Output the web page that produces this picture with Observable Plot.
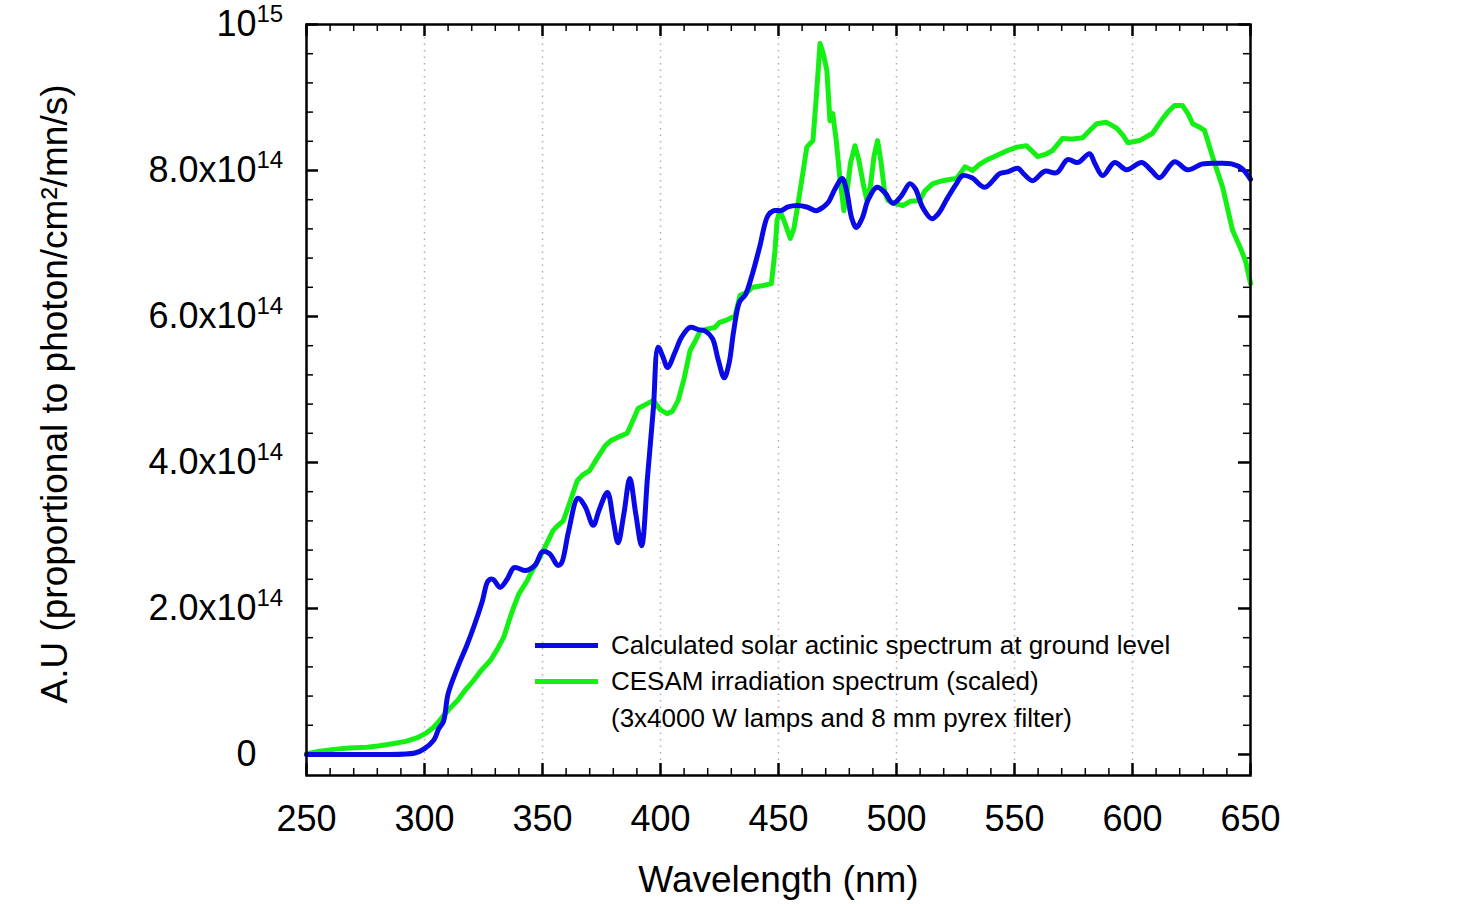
<!DOCTYPE html>
<html>
<head>
<meta charset="utf-8">
<script src="https://cdn.jsdelivr.net/npm/d3@7"></script>
<script src="https://cdn.jsdelivr.net/npm/@observablehq/plot@0.6"></script>
<style>
  html, body { margin: 0; padding: 0; background: #fff; }
  #wrap { position: relative; width: 1469px; height: 904px; font-family: "Liberation Sans", Arial, sans-serif; }
  #legend { position: absolute; left: 535px; top: 627px; font-size: 26px; color: #000; }
  #legend .row { display: flex; align-items: center; height: 36.5px; white-space: nowrap; }
  #legend .sw { width: 63px; height: 5px; margin-right: 13px; }
  #legend .nosw { width: 63px; margin-right: 13px; }
</style>
</head>
<body>
<div id="wrap"><div id="legend"></div></div>
<script>
// ---- data (values in units of 1e14) ----
const solarNm = [250,260,280,296,300,304,306,308,310,314,318,321,324.5,327,329,332,335,338,343,347,350,353,356.5,358,361,365,368,371.5,374,377.5,380,382,384.5,387,389.5,392,394.5,397,399,401,403,406,409,412.5,416,419,422,424.5,427,429,431,433.5,436,439,442,445.5,448,451,454,458,462,466,469,471,474,477,479,481,483,485.5,488,491.7,495,498.5,502,505.7,508,511,515,518,521,525,528,532,537.4,543.8,547,551.4,554,557.7,562.8,567.9,572.5,576.8,581.8,584,587.4,592.4,597.5,603.9,608,611.5,617.8,623.3,629.7,636.9,642,646.2,650];
const solarVal = [0,0,0,0.02,0.08,0.2,0.35,0.45,0.83,1.19,1.5,1.76,2.1,2.38,2.4,2.29,2.4,2.56,2.52,2.6,2.78,2.75,2.59,2.62,3.05,3.51,3.4,3.14,3.35,3.59,3.2,2.9,3.3,3.78,3.3,2.86,3.8,4.75,5.58,5.45,5.3,5.5,5.72,5.85,5.82,5.8,5.7,5.4,5.16,5.35,5.8,6.2,6.3,6.59,6.95,7.38,7.45,7.45,7.5,7.52,7.5,7.45,7.5,7.56,7.75,7.89,7.7,7.35,7.22,7.35,7.6,7.77,7.7,7.55,7.65,7.82,7.75,7.5,7.34,7.42,7.59,7.8,7.93,7.9,7.77,7.96,7.98,8.03,7.95,7.86,7.99,7.97,8.15,8.11,8.23,8.1,7.93,8.11,8.01,8.11,8.0,7.9,8.12,8.01,8.09,8.1,8.09,8.03,7.88];

const cesamNm = [250,255,261.6,268,275.7,281,287,292,297,301,303.8,306,308,311,314,317,320.7,324,328,331,333.5,336,337.7,340,343.5,345,348,350.3,352.4,354.5,356,358.8,361,364.7,367,370,373,376.6,379,381.6,385.9,388,390.5,394,397,400,402.8,405,407.5,410,412.5,414.5,416.8,420,423,425,428,431.6,433.7,436.7,439,443,447,448.5,449.4,450.6,452.5,455,456.5,458,460,462,464.6,466,467.6,469,470.5,471.8,473,474.5,476,477.7,479,480.5,482.4,484,486,487.5,489,490.5,492,493.5,495,496.4,499,502.7,506,509.9,512,515.4,519.6,523,525.5,529,532.3,535,538,542,546.7,551,555,557,559.8,563,566,570.4,574,578.9,582,584.8,589,593.3,596,598,603,608.5,612.8,615,617.8,621.2,623.5,625.5,628,630.5,634,638.2,642.4,646.2,648,650];
const cesamVal = [0.01,0.04,0.07,0.09,0.1,0.12,0.15,0.18,0.23,0.3,0.37,0.45,0.53,0.64,0.74,0.87,1.01,1.15,1.29,1.45,1.6,1.85,2.01,2.2,2.38,2.48,2.65,2.79,2.93,3.07,3.12,3.2,3.4,3.75,3.83,3.89,4.05,4.23,4.3,4.34,4.4,4.55,4.74,4.8,4.85,4.72,4.67,4.7,4.85,5.15,5.53,5.65,5.8,5.83,5.85,5.92,5.95,6.01,6.29,6.33,6.4,6.42,6.45,6.9,7.32,7.45,7.3,7.07,7.2,7.49,7.9,8.32,8.41,9.0,9.74,9.6,9.37,8.68,8.78,8.4,7.9,7.45,7.7,8.1,8.34,8.15,7.8,7.59,7.8,8.2,8.41,8.1,7.7,7.59,7.55,7.52,7.58,7.59,7.72,7.82,7.86,7.88,7.89,8.05,8.0,8.08,8.14,8.2,8.27,8.32,8.34,8.28,8.19,8.22,8.27,8.44,8.43,8.45,8.55,8.64,8.66,8.58,8.48,8.38,8.41,8.51,8.71,8.8,8.89,8.89,8.78,8.64,8.6,8.55,8.18,7.77,7.18,6.9,6.75,6.45];

const xTicks = [250,300,350,400,450,500,550,600,650];
const xGrid = [300,350,400,450,500,550,600];
const xMinor = d3.range(250, 651, 10).filter(v => v % 50 !== 0);
const yTicks = [0,2,4,6,8,10];
const yBase = ["0","2.0x10","4.0x10","6.0x10","8.0x10","10"];
const yExp = ["","14","14","14","14","15"];
const yMinor = d3.range(0, 10.01, 0.4).map(v => +v.toFixed(2)).filter(v => Math.abs(v/2 - Math.round(v/2)) > 1e-6);

const seriesNames = ["Calculated solar actinic spectrum at ground level", "CESAM irradiation spectrum (scaled)"];
const legendNote = "(3x4000 W lamps and 8 mm pyrex filter)";
const colors = ["#0a0ae6", "#14f014"];
const xLabel = "Wavelength (nm)";
const yLabel = "A.U (proportional to photon/cm\u00b2/mn/s)";

// ---- tables ----
const solar = solarNm.map((x, i) => ({x, y: solarVal[i]}));
const cesam = cesamNm.map((x, i) => ({x, y: cesamVal[i]}));
const yLab = yTicks.map((v, i) => ({v, base: yBase[i], exp: yExp[i]}));

const W = 1469, H = 904, mL = 306, mR = 219, mT = 24, mB = 129;
const fw = W - mL - mR, fh = H - mT - mB;
const font = "Liberation Sans, Arial, sans-serif";

const chart = Plot.plot({
  width: W, height: H,
  marginLeft: mL, marginRight: mR, marginTop: mT, marginBottom: mB,
  style: {fontFamily: font, background: "white", color: "black"},
  x: {domain: [250, 650]},
  y: {domain: [-0.288, 10], axis: null},
  marks: [
    Plot.ruleX(xGrid, {x: d => d, stroke: "#b0b0b0", strokeWidth: 1.5, strokeDasharray: "1.5,5"}),
    // bottom & top ticks
    Plot.tickX(xTicks, {x: d => d, insetTop: fh - 12, stroke: "black", strokeWidth: 2.5}),
    Plot.tickX(xMinor, {x: d => d, insetTop: fh - 7, stroke: "black", strokeWidth: 1.5}),
    Plot.tickX(xTicks, {x: d => d, insetBottom: fh - 12, stroke: "black", strokeWidth: 2.5}),
    Plot.tickX(xMinor, {x: d => d, insetBottom: fh - 7, stroke: "black", strokeWidth: 1.5}),
    // left & right ticks
    Plot.tickY(yTicks, {y: d => d, insetRight: fw - 12, stroke: "black", strokeWidth: 2.5}),
    Plot.tickY(yMinor, {y: d => d, insetRight: fw - 7, stroke: "black", strokeWidth: 1.5}),
    Plot.tickY(yTicks, {y: d => d, insetLeft: fw - 12, stroke: "black", strokeWidth: 2.5}),
    Plot.tickY(yMinor, {y: d => d, insetLeft: fw - 7, stroke: "black", strokeWidth: 1.5}),
    // x tick labels
    Plot.axisX(xTicks, {tickSize: 0, tickPadding: 30, fontSize: 36, tickFormat: d => String(d), label: null}),
    // y tick labels with superscript exponent
    Plot.text(yLab, {y: "v", text: "base", frameAnchor: "left", textAnchor: "end", dx: -50, fontSize: 36}),
    Plot.text(yLab.filter(d => d.exp), {y: "v", text: "exp", frameAnchor: "left", textAnchor: "start", dx: -50, dy: -10, fontSize: 24}),
    // axis titles
    Plot.text([xLabel], {frameAnchor: "bottom", dy: 116, fontSize: 37}),
    Plot.text([yLabel], {frameAnchor: "left", textAnchor: "middle", rotate: -90, dx: -251, dy: -6, fontSize: 37}),
    // series
    Plot.line(cesam, {x: "x", y: "y", stroke: colors[1], strokeWidth: 5, strokeLinejoin: "round"}),
    Plot.line(solar, {x: "x", y: "y", stroke: colors[0], strokeWidth: 5, curve: "catmull-rom", strokeLinejoin: "round"}),
    Plot.frame({stroke: "black", strokeWidth: 2.5})
  ]
});
const wrap = document.getElementById("wrap");
wrap.insertBefore(chart, wrap.firstChild);

const legend = document.getElementById("legend");
seriesNames.forEach((name, i) => {
  const row = document.createElement("div");
  row.className = "row";
  const sw = document.createElement("div");
  sw.className = "sw"; sw.style.background = colors[i];
  const t = document.createElement("span"); t.textContent = name;
  row.append(sw, t); legend.append(row);
});
const note = document.createElement("div");
note.className = "row";
const ns = document.createElement("div"); ns.className = "nosw";
const nt = document.createElement("span"); nt.textContent = legendNote;
note.append(ns, nt); legend.append(note);
</script>
</body>
</html>
